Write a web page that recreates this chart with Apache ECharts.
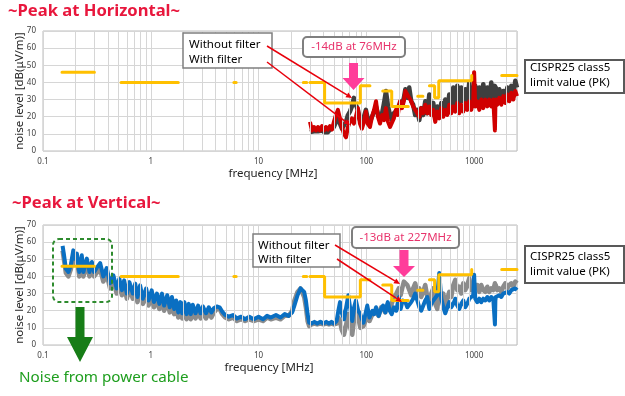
<!DOCTYPE html>
<html>
<head>
<meta charset="utf-8">
<script src="https://cdn.jsdelivr.net/npm/echarts@6/dist/echarts.min.js"></script>
<style>
html, body { margin: 0; padding: 0; background: #fff; }
#main { width: 625px; height: 396px; }
</style>
</head>
<body>
<div id="main"></div>
<script>
// horizontal polarisation (30 MHz - 2.5 GHz)
const hFreq = [30, 31.3, 32.7, 34.1, 35.6, 37.1, 38.8, 40.5, 42.2, 44, 46, 48, 50, 52.2, 54.5, 56.9, 59.4, 62, 64.7, 67.5,
  70.4, 73.5, 76.7, 80, 83.5, 87.2, 91, 95, 99.1, 103, 108, 113, 118, 123, 128, 134, 140, 146, 152, 159,
  166, 173, 180, 188, 196, 205, 214, 223,
  230, 240, 250, 261, 272, 284, 297, 310, 323, 337, 352, 368, 384, 400, 418, 436, 455, 475, 496, 518,
  540, 564, 588, 614, 641, 669, 698, 728, 760, 793, 828, 864, 902, 941, 982, 1000, 1025, 1070, 1117, 1165,
  1216, 1270, 1325, 1383, 1443, 1506, 1560, 1575, 1590, 1640, 1712, 1787, 1865, 1946, 2031, 2120, 2213, 2309, 2410, 2500];
const hWithout = [11, 10.5, 11.5, 10.5, 11.5, 10.5, 12, 11, 12, 11, 12.5, 11.5, 14, 17, 20, 16, 13, 15, 17, 21,
  23, 26, 31, 27, 24, 18, 16, 20, 24, 19, 17, 20, 23, 26, 22, 19, 22, 28, 35, 26,
  21, 18, 22, 23, 25, 28, 27, 31,
  36, 31, 37, 29, 27, 21, 24, 18, 25, 21, 29, 22, 33, 24, 28, 19, 26, 20, 28, 22,
  30, 23, 33, 26, 37, 28, 38, 27, 37, 29, 36, 28, 40, 29, 37, 30, 38, 29, 37, 30,
  39, 30, 37, 31, 40, 31, 38, 33, 37, 31, 36, 30, 35, 31, 37, 32, 38, 33, 41, 37];
const hWith = [17, 12, 14, 12, 14, 12, 14.5, 12, 14, 12.5, 14.5, 12.5, 17, 21, 24, 19, 14, 10, 8, 14,
  17, 19, 16, 20, 25, 16, 13, 17, 23, 16, 14, 20, 24, 29, 20, 16, 21, 18, 25, 17,
  14, 13, 19, 24, 21, 29, 25, 29,
  35, 33, 31, 29, 26, 24, 22, 20, 25, 22, 27, 22, 26, 21, 24, 17, 23, 19, 25, 20,
  24, 21, 27, 22, 26, 23, 28, 22, 27, 23, 28, 24, 29, 24, 29, 46, 26, 29, 24, 30,
  25, 30, 26, 30, 26, 30, 12, 26, 30, 27, 31, 27, 32, 28, 33, 29, 34, 30, 35, 32];

// vertical polarisation (150 kHz - 2.5 GHz)
const vFreq = [0.152, 0.157, 0.163, 0.172, 0.181, 0.191, 0.198, 0.206, 0.217, 0.229,
  0.237, 0.255, 0.27, 0.284, 0.298, 0.315, 0.339, 0.363, 0.39, 0.419,
  0.45, 0.483, 0.511, 0.54, 0.566, 0.6, 0.633, 0.682, 0.717, 0.752,
  0.796, 0.844, 0.906, 0.953, 1.02, 1.07, 1.14, 1.2, 1.27, 1.33,
  1.42, 1.5, 1.57, 1.65,
  1.72, 1.8, 1.88, 1.96, 2.05, 2.15, 2.25, 2.35, 2.45, 2.6,
  2.75, 2.9, 3.05, 3.25, 3.45, 3.65, 3.85, 4.1, 4.35, 4.6,
  4.9, 5.3, 5.8, 6.3, 6.9, 7.5, 8.2, 9, 10, 11,
  12, 13, 14.5, 16, 17.5, 19, 20.5, 21.5, 23, 24.5,
  25.5, 26.5, 27.5, 28.5, 29.5,
  31, 33, 35, 37.5, 40, 42.5, 45, 47.5, 50, 53,
  55, 57, 59, 62, 65, 68, 71, 74, 77, 80,
  84, 88, 91, 94, 98, 102, 107, 114, 118, 123,
  130, 137, 143, 150, 158, 165, 172, 180, 190, 200,
  208, 217, 223,
  230, 240, 250, 261, 272, 284, 297, 310, 323, 337, 352, 368, 384, 400, 418, 436, 455, 475, 496, 518,
  540, 564, 588, 614, 641, 669, 698, 728, 760, 793, 828, 864, 902, 941, 982, 1000, 1025, 1070, 1117, 1165,
  1216, 1270, 1325, 1383, 1443, 1506, 1560, 1575, 1590, 1640, 1712, 1787, 1865, 1946, 2031, 2120, 2213, 2309, 2410, 2500];
const vWithout = [55, 49, 42, 40, 44, 52, 47, 50, 40, 49,
  40, 47, 40, 45, 40, 42, 44, 37, 41, 33,
  37, 30, 35, 29, 34, 27, 33, 27, 32, 25,
  31, 24, 29, 23, 28, 22, 26, 21, 26, 20,
  25, 19, 24, 18,
  22, 16, 21, 15.5, 21, 15, 20, 15, 19.5, 15.5,
  19, 15.5, 19, 15.5, 19, 16, 19, 21, 21, 18,
  16, 15, 16, 14, 15, 14, 15, 14, 15, 14,
  16, 15, 16, 15, 17, 17, 20, 26, 31, 33,
  32, 28, 22, 14, 11,
  12, 12.5, 12, 12.5, 12, 12.5, 12, 12.5, 12, 12.5,
  16, 14, 9, 6, 12, 18, 10, 6, 15, 22,
  16, 10, 9, 11, 14, 17, 14, 18, 17, 19,
  17, 22, 21, 19, 24, 22, 24, 28, 30, 33,
  29, 34, 37,
  37, 35, 34, 29, 33, 36, 30, 33, 28, 31, 35, 28, 23, 30, 33, 24, 21, 31, 27, 30,
  23, 27, 31, 28, 35, 38, 32, 34, 30, 36, 32, 35, 39, 32, 31, 36, 33, 35, 31, 35,
  32, 31, 34, 31, 33, 32, 36, 33, 35, 32, 33, 31, 34, 36, 33, 35, 36, 34, 37, 36];
const vWith = [57.8, 52, 44.5, 42.6, 46.5, 55.2, 50.4, 53.3, 42.6, 52.3,
  42.6, 50.4, 42.6, 48.4, 42.6, 45, 47.8, 40, 44.9, 36,
  40.6, 33, 38.7, 32, 37.7, 30, 36.7, 30, 35.8, 28,
  34.8, 27, 33, 26, 31.9, 25.1, 30, 24, 30, 23,
  29, 22, 28, 21,
  26, 19, 25, 18.5, 25, 18, 24, 18, 23.5, 18.5,
  23, 18.5, 22.5, 18.5, 22, 19, 21.5, 22.5, 22, 19.5,
  17.5, 16.5, 17.5, 15.5, 16.5, 15, 16.5, 15, 16.5, 15,
  17, 16, 17.5, 16, 18, 17, 19, 23, 29, 33,
  33.5, 31, 26, 18, 13,
  12.5, 13.5, 12.5, 13.5, 12.5, 13.5, 12.5, 13.5, 12.5, 14,
  20, 25, 19, 15, 22, 29, 21, 14, 22, 26,
  20, 18, 15, 13, 18, 23, 16, 20, 18, 22,
  17, 21, 23, 19, 25, 20, 18, 22, 20, 28,
  21, 26, 25,
  25, 22, 21, 25, 27, 30, 26, 22, 20, 19, 26, 28, 21, 24, 26, 27, 29, 42, 27, 22,
  18.5, 22, 25, 22, 24, 27, 23, 21, 24, 26, 22, 24, 27, 26, 29, 41, 27, 25, 27, 25,
  27, 26, 28, 26, 28, 27, 12, 26, 28, 27, 29, 28, 30, 29, 31, 30, 32, 31, 33, 32];

// CISPR25 class5 limit (PK), null = gap between bands
const limitFreq = [0.15, 0.3, null, 0.53, 1.8, null, 5.9, 6.2, null, 26, 28, null,
  30, 41, 41, 88, 88, 108, null, 142, 172, 172, 245, null, 300, 335, null,
  385, 430, 430, 470, 470, 950, 950, null, 1567, 1583, null, 1803, 2500];
const limitLevel = [46, 46, null, 40, 40, null, 40, 40, null, 40, 40, null,
  40, 40, 28, 28, 38, 38, null, 35, 35, 26, 26, null, 32, 32, null,
  38, 38, 31, 31, 41, 41, 44, null, 28, 28, null, 44, 44];

const minorFreq = [0.2, 0.3, 0.4, 0.5, 0.6, 0.7, 0.8, 0.9, 2, 3, 4, 5, 6, 7, 8, 9,
  20, 30, 40, 50, 60, 70, 80, 90, 200, 300, 400, 500, 600, 700, 800, 900, 2000];

const FONT = '"Noto Sans", "DejaVu Sans", sans-serif';
const GRID_C = '#d6d6d6';

function pairs(xs, ys) {
  return xs.map((x, i) => [x, ys[i]]);
}

function xAxis(gi) {
  return {
    type: 'log', logBase: 10, gridIndex: gi, min: 0.1, max: 2500,
    axisLine: { show: false }, axisTick: { show: false },
    axisLabel: {
      fontSize: 8, color: '#404040', margin: 7, fontFamily: FONT, showMaxLabel: false,
      formatter: v => String(+Number(v).toPrecision(6))
    },
    splitLine: { show: true, lineStyle: { color: GRID_C, width: 1 } }
  };
}

function yAxis(gi) {
  return {
    type: 'value', gridIndex: gi, min: 0, max: 70, interval: 10,
    axisLine: { show: false }, axisTick: { show: false },
    axisLabel: { fontSize: 8, color: '#404040', margin: 7, fontFamily: FONT },
    splitLine: { show: true, lineStyle: { color: GRID_C, width: 1 } }
  };
}

function minorSeries(gi) {
  return {
    type: 'line', xAxisIndex: gi, yAxisIndex: gi, data: [], z: 1, silent: true,
    markLine: {
      silent: true, symbol: 'none', animation: false, label: { show: false },
      lineStyle: { color: GRID_C, width: 1, type: 'solid' },
      data: minorFreq.map(f => ({ xAxis: f }))
    }
  };
}

function trace(gi, xs, ys, color, width, z) {
  return {
    type: 'line', xAxisIndex: gi, yAxisIndex: gi, data: pairs(xs, ys), z: z,
    showSymbol: false, symbol: 'none', animation: false,
    lineStyle: { color: color, width: width, join: 'round' }
  };
}

function limitSeries(gi) {
  return {
    type: 'line', xAxisIndex: gi, yAxisIndex: gi, data: pairs(limitFreq, limitLevel), z: 5,
    showSymbol: false, symbol: 'none', animation: false, connectNulls: false,
    lineStyle: { color: '#ffc000', width: 3, cap: 'round' }
  };
}

// annotation helpers
function txt(x, y, text, size, color, opt) {
  opt = opt || {};
  return {
    type: 'text', x: x, y: y, rotation: opt.rot || 0, z: 20,
    style: {
      text: text, font: (opt.bold ? 'bold ' : '') + size + 'px ' + FONT, fill: color,
      align: opt.align || 'left', verticalAlign: 'middle'
    }
  };
}

function box(x, y, w, h, stroke, lw, r, dash) {
  return {
    type: 'rect', z: 15, shape: { x: x, y: y, width: w, height: h, r: r || 0 },
    style: { fill: dash ? 'none' : '#fff', stroke: stroke, lineWidth: lw, lineDash: dash || null }
  };
}

function arrowLine(x1, y1, x2, y2, color) {
  const a = Math.atan2(y2 - y1, x2 - x1), L = 6, W = 2.8;
  const bx = x2 - L * Math.cos(a), by = y2 - L * Math.sin(a);
  return [
    { type: 'line', z: 16, shape: { x1: x1, y1: y1, x2: bx, y2: by }, style: { stroke: color, lineWidth: 1.5 } },
    { type: 'polygon', z: 16, shape: { points: [[x2, y2], [bx + W * Math.sin(a), by - W * Math.cos(a)], [bx - W * Math.sin(a), by + W * Math.cos(a)]] }, style: { fill: color } }
  ];
}

function downArrow(cx, y0, yNeck, yTip, sw, hw, color) {
  return {
    type: 'polygon', z: 16,
    shape: { points: [[cx - sw / 2, y0], [cx + sw / 2, y0], [cx + sw / 2, yNeck], [cx + hw / 2, yNeck], [cx, yTip], [cx - hw / 2, yNeck], [cx - sw / 2, yNeck]] },
    style: { fill: color }
  };
}

const TITLE_C = '#e8173d';
const PINK = '#ff3d9a';
const RED_A = '#e8000b';
const LBL = 11.5;

const graphics = [
  txt(8, 11, '~Peak at Horizontal~', 16.6, TITLE_C, { bold: true }),
  txt(12, 203, '~Peak at Vertical~', 16.6, TITLE_C, { bold: true }),
  txt(20, 91, 'noise level [dB(μV/m)]', LBL, '#262626', { rot: Math.PI / 2, align: 'center' }),
  txt(20, 285, 'noise level [dB(μV/m)]', LBL, '#262626', { rot: Math.PI / 2, align: 'center' }),
  txt(273, 174, 'frequency [MHz]', LBL, '#262626', { align: 'center' }),
  txt(269, 368, 'frequency [MHz]', LBL, '#262626', { align: 'center' }),
  // legend boxes
  box(183, 33, 89, 35, '#7f7f7f', 1.5),
  txt(189, 45, 'Without filter', LBL, '#000'),
  txt(189, 60, 'With filter', LBL, '#000'),
  box(253, 234, 87, 33, '#7f7f7f', 1.5),
  txt(258, 245.5, 'Without filter', LBL, '#000'),
  txt(258, 260, 'With filter', LBL, '#000'),
  // limit labels
  box(525, 60, 99, 33, '#595959', 2),
  txt(530, 68, 'CISPR25 class5', LBL, '#000'),
  txt(530, 83, 'limit value (PK)', LBL, '#000'),
  box(525, 246, 99, 37, '#595959', 2),
  txt(530, 257, 'CISPR25 class5', LBL, '#000'),
  txt(530, 272, 'limit value (PK)', LBL, '#000'),
  // reduction callouts
  box(303, 37, 102, 20, '#7f7f7f', 2, 4),
  txt(354, 47, '-14dB at 76MHz', LBL, '#e8336c', { align: 'center' }),
  box(352, 227, 107, 21, '#7f7f7f', 2, 4),
  txt(405.5, 237.5, '-13dB at 227MHz', LBL, '#e8336c', { align: 'center' }),
  downArrow(353.5, 63, 78, 90, 9, 22, PINK),
  downArrow(404, 250, 266, 277, 9, 22, PINK),
  // power cable noise
  box(53, 239, 59, 63, '#2e8b2e', 2, 6, [4, 3]),
  downArrow(80, 307, 337, 362, 9, 26, '#177d17'),
  txt(19, 378, 'Noise from power cable', 15.2, '#1e9e1e')
].concat(
  arrowLine(267, 46, 352, 98, RED_A),
  arrowLine(267, 62, 350, 125, RED_A),
  arrowLine(335, 245, 400, 284, RED_A),
  arrowLine(337, 259, 402, 302, RED_A)
);

const chart = echarts.init(document.getElementById('main'));
chart.setOption({
  animation: false,
  backgroundColor: '#fff',
  grid: [
    { left: 43, top: 31, width: 474, height: 120, show: true, borderColor: '#bdbdbd', borderWidth: 1 },
    { left: 43, top: 225, width: 474, height: 120, show: true, borderColor: '#bdbdbd', borderWidth: 1 }
  ],
  xAxis: [xAxis(0), xAxis(1)],
  yAxis: [yAxis(0), yAxis(1)],
  series: [
    minorSeries(0),
    minorSeries(1),
    trace(0, hFreq, hWithout, '#3f3f3f', 4.5, 2),
    trace(0, hFreq, hWith, '#d00000', 4, 3),
    limitSeries(0),
    trace(1, vFreq, vWithout, '#8c8c8c', 4.5, 2),
    trace(1, vFreq, vWith, '#0a6fc2', 4, 3),
    limitSeries(1)
  ],
  graphic: graphics
});

window.addEventListener('resize', function () {
  chart.resize();
});
</script>
</body>
</html>
